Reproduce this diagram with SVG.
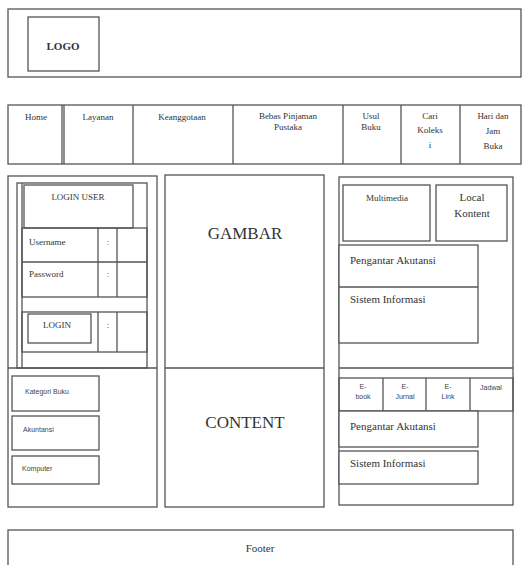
<svg xmlns="http://www.w3.org/2000/svg" width="523" height="565" viewBox="0 0 523 565">
<style>
.b{fill:#fff;stroke:#555;stroke-width:1.3}
.n{fill:none;stroke:#555;stroke-width:1.3}
.l{stroke:#555;stroke-width:1.3}
.s{font-family:"Liberation Serif",serif;fill:#333;font-size:9px}
.m{font-family:"Liberation Serif",serif;fill:#333;font-size:11px}
.c{text-anchor:middle}
.k{font-family:"Liberation Sans",sans-serif;fill:#444;font-size:7px}
.big{font-family:"Liberation Serif",serif;fill:#333;font-size:17px;text-anchor:middle}
</style>
<rect width="523" height="565" fill="#fff"/>
<g id="header">
<rect class="b" x="8" y="9" width="513" height="68"/>
<g id="logo"><rect class="b" x="28" y="17" width="71" height="54"/>
<text class="m c" x="63" y="50" font-weight="bold">LOGO</text></g>
</g>
<g id="nav">
<rect class="b" x="8" y="105" width="513" height="59"/>
<line class="l" x1="62" y1="105" x2="62" y2="164"/><line class="l" x1="64" y1="105" x2="64" y2="164"/>
<line class="l" x1="133" y1="105" x2="133" y2="164"/>
<line class="l" x1="233" y1="105" x2="233" y2="164"/>
<line class="l" x1="343" y1="105" x2="343" y2="164"/>
<line class="l" x1="401" y1="105" x2="401" y2="164"/>
<line class="l" x1="460" y1="105" x2="460" y2="164"/>
<text class="s c" x="36" y="120">Home</text>
<text class="s c" x="98" y="120">Layanan</text>
<text class="s c" x="182" y="120">Keanggotaan</text>
<text class="s c" x="288" y="119">Bebas Pinjaman</text>
<text class="s c" x="288" y="130">Pustaka</text>
<text class="s c" x="371" y="119">Usul</text>
<text class="s c" x="371" y="130">Buku</text>
<text class="s c" x="430" y="119">Cari</text>
<text class="s c" x="430" y="133">Koleks</text>
<text class="s c" x="430" y="148">i</text>
<text class="s c" x="493" y="119">Hari dan</text>
<text class="s c" x="493" y="134">Jam</text>
<text class="s c" x="493" y="149">Buka</text>
</g>
<g id="left">
<rect class="b" x="8" y="176" width="149" height="331"/>
<line class="l" x1="8" y1="368" x2="157" y2="368"/>
<g id="login">
<rect class="n" x="17" y="183" width="130" height="185"/>
<line class="l" x1="22" y1="183" x2="22" y2="368"/>
<rect class="b" x="24" y="185" width="109" height="43"/>
<text class="s c" x="78" y="200">LOGIN USER</text>
<rect class="n" x="22" y="228" width="125" height="69"/>
<line class="l" x1="22" y1="262" x2="147" y2="262"/>
<line class="l" x1="98" y1="228" x2="98" y2="297"/>
<line class="l" x1="117" y1="228" x2="117" y2="297"/>
<text class="s" x="29" y="245">Username</text>
<text class="s" x="29" y="277">Password</text>
<text class="s c" x="108" y="245">:</text>
<text class="s c" x="108" y="277">:</text>
<rect class="n" x="22" y="312" width="125" height="40"/>
<line class="l" x1="98" y1="312" x2="98" y2="352"/>
<line class="l" x1="117" y1="312" x2="117" y2="352"/>
<rect class="b" x="28" y="314" width="63" height="29"/>
<text class="s c" x="57" y="328">LOGIN</text>
<text class="s c" x="108" y="328">:</text>
</g>
<g id="kategori">
<rect class="b" x="12" y="376" width="87" height="35"/>
<text class="k" x="25" y="394">Kategori Buku</text>
<rect class="b" x="12" y="416" width="87" height="34"/>
<text class="k" x="23" y="432">Akuntansi</text>
<rect class="b" x="12" y="456" width="87" height="28"/>
<text class="k" x="22" y="471">Komputer</text>
</g>
</g>
<g id="center">
<rect class="b" x="165" y="175" width="159" height="332"/>
<line class="l" x1="165" y1="368" x2="324" y2="368"/>
<text class="big" x="245" y="239">GAMBAR</text>
<text class="big" x="245" y="428">CONTENT</text>
</g>
<g id="right">
<rect class="b" x="339" y="177" width="174" height="328"/>
<rect class="b" x="343" y="185" width="87" height="56"/>
<text class="s c" x="387" y="201">Multimedia</text>
<rect class="b" x="436" y="185" width="71" height="56"/>
<text class="m c" x="472" y="201">Local</text>
<text class="m c" x="472" y="217">Kontent</text>
<rect class="b" x="339" y="245" width="139" height="98"/>
<line class="l" x1="339" y1="287" x2="478" y2="287"/>
<text class="m" x="350" y="264">Pengantar Akutansi</text>
<text class="m" x="350" y="303">Sistem Informasi</text>
<line class="l" x1="339" y1="368" x2="513" y2="368"/>
<rect class="n" x="339" y="378" width="174" height="33"/>
<line class="l" x1="383" y1="378" x2="383" y2="411"/>
<line class="l" x1="426" y1="378" x2="426" y2="411"/>
<line class="l" x1="470" y1="378" x2="470" y2="411"/>
<text class="k c" x="363" y="389">E-</text><text class="k c" x="363" y="399">book</text>
<text class="k c" x="405" y="389">E-</text><text class="k c" x="405" y="399">Jurnal</text>
<text class="k c" x="448" y="389">E-</text><text class="k c" x="448" y="399">Link</text>
<text class="k c" x="491" y="390">Jadwal</text>
<rect class="b" x="339" y="411" width="139" height="36"/>
<text class="m" x="350" y="430">Pengantar Akutansi</text>
<rect class="b" x="339" y="451" width="139" height="33"/>
<text class="m" x="350" y="467">Sistem Informasi</text>
</g>
<g id="footer">
<rect class="b" x="8" y="530" width="505" height="45"/>
<text class="m c" x="260" y="552">Footer</text>
</g>
<g id="connectors"/>
</svg>
